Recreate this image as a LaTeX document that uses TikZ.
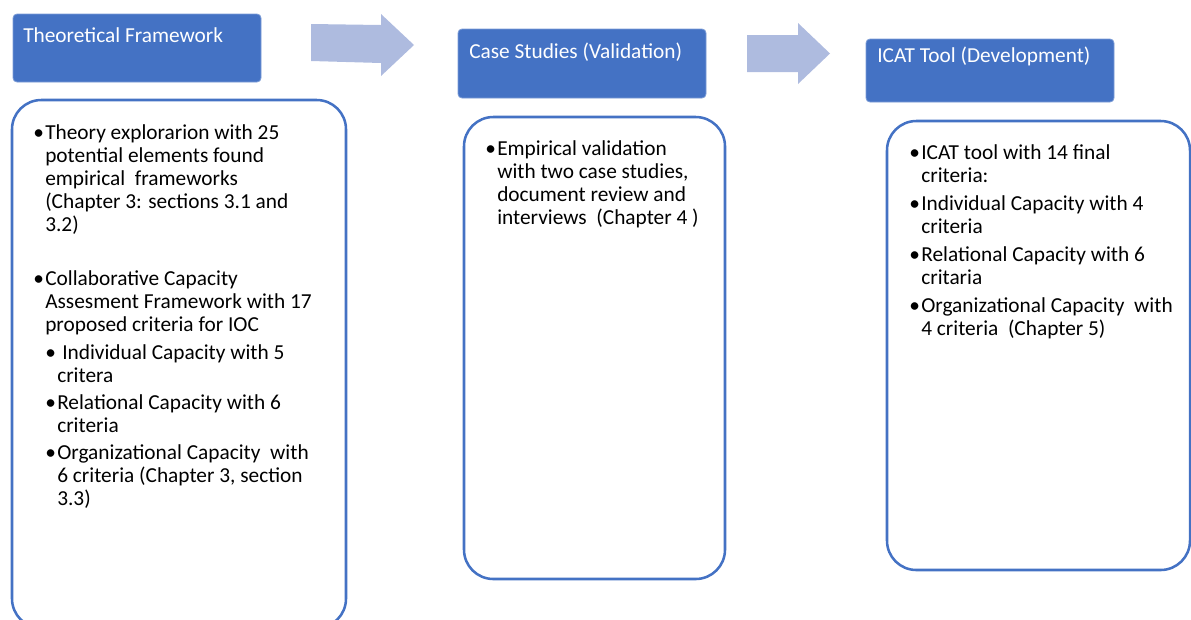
\documentclass[tikz,border=0pt]{standalone}
\usepackage{fontspec}
\setmainfont{Carlito}
\definecolor{hdblue}{RGB}{68,114,196}
\definecolor{arrblue}{RGB}{174,187,223}
\tikzset{
  headbox/.style={fill=hdblue, draw=hdblue!70!white, line width=0.6pt, rounded corners=3pt},
  bodybox/.style={draw=hdblue, line width=1.9pt, rounded corners=22pt},
  blockarrow/.style={fill=arrblue, draw=none},
  headtext/.style={anchor=base west, inner sep=0pt, text=white, font=\fontsize{16}{17.25}\selectfont},
  % multi-line nodes: base = baseline of the last line
  bodytext/.style={anchor=base west, inner sep=0pt, align=left, font=\fontsize{16}{17.25}\selectfont},
  bulletmark/.style={anchor=base west, inner sep=0pt, font=\fontsize{16}{17.25}\selectfont}
}
\begin{document}
\begin{tikzpicture}[x=0.75pt, y=-0.75pt]
\useasboundingbox (0,0) rectangle (1191,619);

% header boxes
\draw [headbox] (13,14) rectangle (261,82);
\node [headtext] (tfhead) at (23,42) {Theoretical Framework};

\draw [headbox] (458,29) rectangle (706,98);
\node [headtext] (cshead) at (469,58) {Case Studies (Validation)};

\draw [headbox] (866,39) rectangle (1114,102);
\node [headtext] (ichead) at (877,62) {ICAT Tool (Development)};

% block arrows
\draw [blockarrow] (311,24) -- (381,25) -- (381,14) -- (414,45) -- (381,76) -- (381,63) -- (311,61) -- cycle;
\draw [blockarrow] (747,35) -- (798,35) -- (798,23) -- (830,53.5) -- (798,84) -- (798,72) -- (747,72) -- cycle;

% body boxes
\draw [bodybox] (12,100) rectangle (346,628);
\draw [bodybox] (464,117) rectangle (725,579);
\draw [bodybox] (887,121) rectangle (1190,570);

% theoretical framework
\node [bulletmark] (tfb1) at (33,139) {•};
\node [bodytext] (tft1) at (45,231) {Theory explorarion with 25\\potential elements found\\empirical\ \ frameworks\\(Chapter 3: sections 3.1 and\\3.2)};
\node [bulletmark] (tfb2) at (33,285) {•};
\node [bodytext] (tft2) at (45,331) {Collaborative Capacity\\Assesment Framework with 17\\proposed criteria for IOC};
\node [bulletmark] (tfb3) at (45,359) {•};
\node [bodytext] (tft3) at (57,382) {\hspace{3.75pt}Individual Capacity with 5\\critera};
\node [bulletmark] (tfb4) at (45,409) {•};
\node [bodytext] (tft4) at (57,432) {Relational Capacity with 6\\criteria};
\node [bulletmark] (tfb5) at (45,459) {•};
\node [bodytext] (tft5) at (57,505) {Organizational Capacity\ \ with\\6 criteria (Chapter 3, section\\3.3)};

% case studies
\node [bulletmark] (csb1) at (485,155) {•};
\node [bodytext] (cst1) at (497,224) {Empirical validation\\with two case studies,\\document review and\\interviews\ \ (Chapter 4 )};

% icat tool
\node [bulletmark] (icb1) at (909,159) {•};
\node [bodytext] (ict1) at (921,182) {ICAT tool with 14 final\\criteria:};
\node [bulletmark] (icb2) at (909,210) {•};
\node [bodytext] (ict2) at (921,233) {Individual Capacity with 4\\criteria};
\node [bulletmark] (icb3) at (909,261) {•};
\node [bodytext] (ict3) at (921,284) {Relational Capacity with 6\\critaria};
\node [bulletmark] (icb4) at (909,312) {•};
\node [bodytext] (ict4) at (921,335) {Organizational Capacity\ \ with\\4 criteria\ \ (Chapter 5)};

\end{tikzpicture}
\end{document}
